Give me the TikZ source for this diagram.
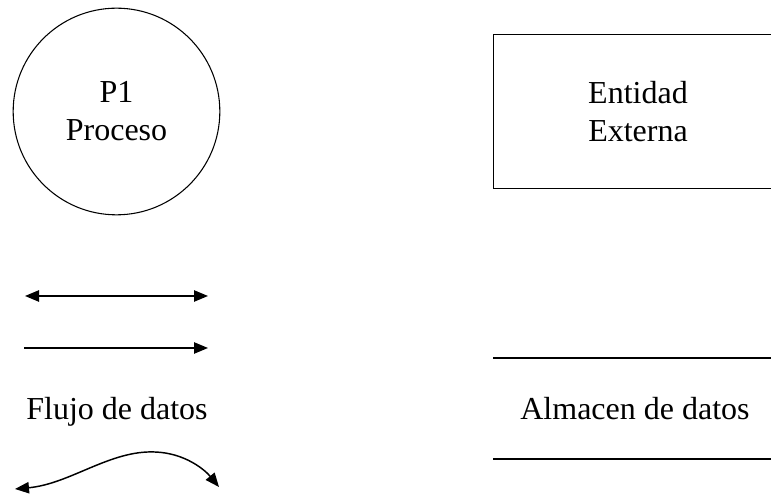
\documentclass[tikz,border=0pt]{standalone}
\usepackage{fontspec}
\setmainfont{Liberation Serif}
\usetikzlibrary{arrows.meta,positioning}

\begin{document}
\begin{tikzpicture}[
  x=0.75pt, y=-0.75pt,
  font=\fontsize{24}{28.5}\selectfont,
  proc/.style={draw, circle, line width=0.8pt, minimum size=155pt, align=center},
  ent/.style={rectangle, minimum width=216pt, minimum height=114.75pt, align=center},
  side/.style={line width=0.9pt},
  lbl/.style={anchor=base, inner sep=0pt},
  flow/.style={line width=1.1pt, -{Triangle[length=10.5pt, width=8.5pt]}},
  flows/.style={line width=1.1pt, {Triangle[length=10.5pt, width=8.5pt]}-{Triangle[length=10.5pt, width=8.5pt]}}
]
\useasboundingbox (0,0) rectangle (771,498);

% proceso y entidad externa
\node[proc] (p1) at (116.5,111.5) {P1\\Proceso};
\node[ent] (ext) at (638,111.5) {Entidad\\Externa};
\draw[side] (ext.north east) -- (ext.north west) -- (ext.south west) -- (ext.south east);

% flujos de datos
\coordinate (fa1) at (25,296);
\coordinate (fb1) at (208,296);
\coordinate (fa2) at (24,348);
\coordinate (fb2) at (208,348);
\coordinate (fa3) at (15,489);
\coordinate (fm3) at (155,452);
\coordinate (fb3) at (219,487);
\draw[flows] (fa1) -- (fb1);
\draw[flow] (fa2) -- (fb2);
\node[lbl] (flujo) at (117,420) {Flujo de datos};
\draw[flows] (fa3) .. controls (70,484) and (110,450) .. (fm3)
  .. controls (185,453) and (205,470) .. (fb3);

% almacen de datos
\coordinate (al1) at (493,358);
\coordinate (ar1) at (771,358);
\coordinate (al2) at (493,459);
\coordinate (ar2) at (771,459);
\draw[side] (al1) -- (ar1);
\draw[side] (al2) -- (ar2);
\node[lbl] (alm) at (635,420) {Almacen de datos};

\end{tikzpicture}
\end{document}
